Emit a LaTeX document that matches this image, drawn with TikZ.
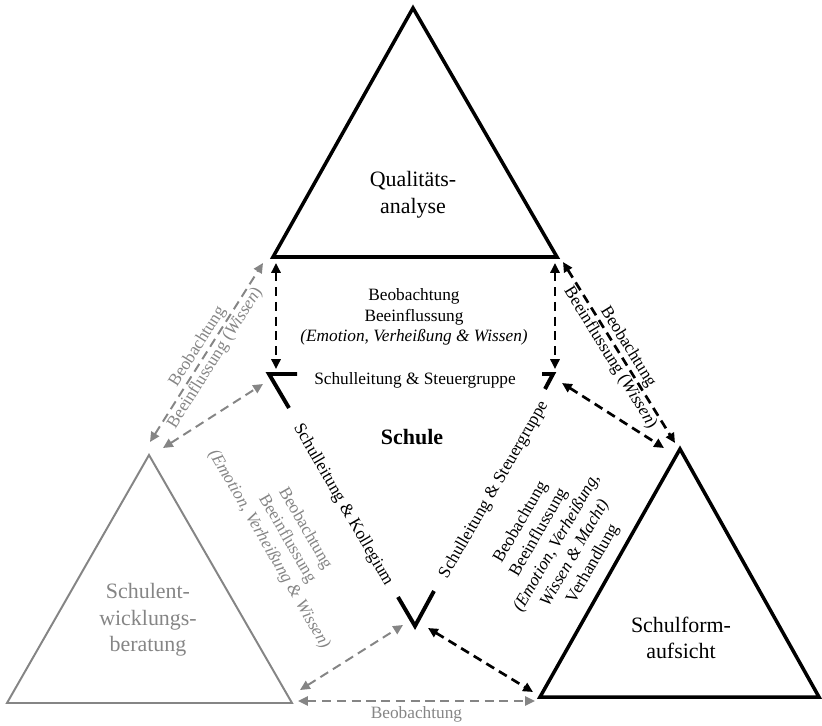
\documentclass[tikz,border=0pt]{standalone}
\usepackage{fontspec}
\setmainfont{Liberation Serif}
\usetikzlibrary{arrows.meta, positioning}
\definecolor{sebgray}{HTML}{858585}

\begin{document}
\begin{tikzpicture}[
  x=0.025cm, y=-0.025cm,
  tri/.style={line width=2.5pt, line join=miter},
  trigray/.style={line width=1.4pt, draw=sebgray},
  corner/.style={line width=2.8pt},
  big/.style={align=center, font=\fontsize{15.6}{19}\selectfont, inner sep=0pt},
  lbl/.style={align=center, font=\fontsize{12.3}{14.8}\selectfont, inner sep=0pt},
  arr/.style={{Triangle[length=7pt,width=6.5pt]}-{Triangle[length=7pt,width=6.5pt]}, line width=1.9pt, dash pattern=on 6.5pt off 4pt},
  arrgray/.style={arr, line width=1.4pt, sebgray}
]
\useasboundingbox (0,0) rectangle (822,725);

% three outer triangles
\coordinate (qaL) at (273,257);
\coordinate (qaT) at (413,8);
\coordinate (qaR) at (557,257);
\coordinate (seL) at (7,703);
\coordinate (seT) at (149,455);
\coordinate (seR) at (292,703);
\coordinate (sfL) at (540,697);
\coordinate (sfT) at (680,449);
\coordinate (sfR) at (819,697);

\draw[tri] (qaL) -- (qaT) -- (qaR) -- cycle;
\draw[trigray] (seL) -- (seT) -- (seR) -- cycle;
\draw[tri] (sfL) -- (sfT) -- (sfR) -- cycle;

\node[big] (qa) at (413,195) {Qualitäts-\\analyse};
\node[big, text=sebgray] (se) at (148,620) {Schulent-\\wicklungs-\\beratung};
\node[big] (sf) at (681,638) {Schulform-\\aufsicht};

% inner (school) corners
\coordinate (scL) at (269,374);
\coordinate (scR) at (553,374);
\coordinate (scB) at (415,626);

\draw[corner] (scL) ++(28,0) -- (scL) -- ++(20,34);
\draw[corner] (scR) ++(-11,0) -- (scR) -- ++(-8,15);
\draw[corner] (scB) ++(-17,-29) -- (scB) -- ++(19,-35);

\node[big, font=\fontsize{15.6}{19}\selectfont\bfseries] (schule) at (412,437) {Schule};
\node[lbl] (sclst) at (415,380) {Schulleitung \& Steuergruppe};
\node[lbl, rotate=-60] (sclko) at (343,505) {Schulleitung \& Kollegium};
\node[lbl, rotate=60] (sclsr) at (494,490) {Schulleitung \& Steuergruppe};

% arrow end points
\coordinate (qaLa) at (276,263);
\coordinate (scLa) at (276,369);
\coordinate (qaRa) at (555,263);
\coordinate (scRa) at (555,369);
\coordinate (qaRb) at (563,262);
\coordinate (sfTa) at (675,443);
\coordinate (scRb) at (562,383);
\coordinate (sfTb) at (664,448);
\coordinate (scBa) at (428,628);
\coordinate (sfLa) at (533,692);
\coordinate (seTa) at (150,442);
\coordinate (qaLb) at (263,263);
\coordinate (seTb) at (163,448);
\coordinate (scLb) at (263,384);
\coordinate (seRa) at (300,690);
\coordinate (scBb) at (403,625);
\coordinate (seRb) at (298,701);
\coordinate (sfLb) at (535,701);

\draw[arr] (qaLa) -- (scLa);
\draw[arr] (qaRa) -- (scRa);
\draw[arr] (qaRb) -- node[lbl, sloped] {Beobachtung\\Beeinflussung (\textit{Wissen})} (sfTa);
\draw[arr] (scRb) -- (sfTb);
\draw[arr] (scBa) -- (sfLa);

\draw[arrgray] (seTa) -- node[lbl, sloped, text=sebgray] {Beobachtung\\Beeinflussung (\textit{Wissen})} (qaLb);
\draw[arrgray] (seTb) -- (scLb);
\draw[arrgray] (seRa) -- (scBb);
\draw[arrgray] (seRb) -- node[lbl, below=3pt, text=sebgray] {Beobachtung} (sfLb);

\node[lbl] (qasc) at (414,317) {Beobachtung\\Beeinflussung\\\textit{(Emotion, Verheißung \& Wissen)}};
\node[lbl, rotate=60] (sfsc) at (557,543) {Beobachtung\\Beeinflussung\\\textit{(Emotion, Verheißung,}\\\textit{Wissen \& Macht)}\\Verhandlung};
\node[lbl, rotate=-60, text=sebgray] (sesc) at (287,539) {Beobachtung\\Beeinflussung\\\textit{(Emotion, Verheißung \& Wissen)}};
\end{tikzpicture}
\end{document}
